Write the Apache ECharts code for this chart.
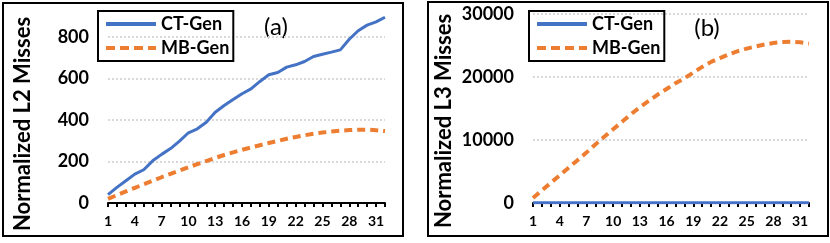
<!DOCTYPE html>
<html>
<head>
<meta charset="utf-8">
<script src="https://cdn.jsdelivr.net/npm/echarts@6/dist/echarts.min.js"></script>
<style>
html,body{margin:0;padding:0;background:#fff;}
#c{width:830px;height:243px;}
</style>
</head>
<body>
<div id="c"></div>
<script>
const categories = ['1','2','3','4','5','6','7','8','9','10','11','12','13','14','15','16','17','18','19','20','21','22','23','24','25','26','27','28','29','30','31','32'];
const seriesNames = ['CT-Gen', 'MB-Gen'];
const l2CT = [40,75,107,139,160,203,234,262,298,338,357,389,437,469,498,526,549,585,617,628,654,665,681,705,716,726,737,788,829,856,872,894];
const l2MB = [20,38,56,73,90,107,124,140,156,172,187,202,217,231,244,256,267,278,289,299,309,318,326,333,339,344,348,351,353,353,350,346];
const l3CT = [30,32,34,35,36,37,38,39,40,41,42,42,43,44,45,45,46,47,47,48,48,49,49,50,50,51,51,52,52,53,53,54];
const l3MB = [800,2000,3200,4400,5600,6800,8000,9300,10500,11700,12900,14100,15200,16200,17200,18100,19000,19800,20700,21600,22400,23000,23600,24100,24500,24850,25150,25400,25550,25600,25500,25300];
const yTitles = ['Normalized L2 Misses', 'Normalized L3 Misses'];
const panelTags = ['(a)', '(b)'];

const FONT = 'Lato';
const BLUE = '#4472C4', ORANGE = '#ED7D31';
const SOLID_ICON = 'path://M0,0h50v4h-50z';
const DASH_ICON = 'path://M0,0h9v4h-9z M14,0h9v4h-9z M28,0h9v4h-9z M42,0h8v4h-8z';

function xAxis(gi) {
  return {
    type: 'category', gridIndex: gi, data: categories, boundaryGap: false,
    axisLine: {lineStyle: {color: '#000', width: 2}},
    axisTick: {show: true, interval: 0, length: 4, lineStyle: {color: '#000', width: 2}},
    axisLabel: {interval: 2, margin: 11, fontFamily: FONT, fontWeight: 'bold', fontSize: 14, color: '#000'},
    splitLine: {show: false}
  };
}
function yAxis(gi, max, interval) {
  return {
    type: 'value', gridIndex: gi, min: 0, max: max, interval: interval,
    axisLine: {show: false}, axisTick: {show: false},
    axisLabel: {margin: 19, fontFamily: FONT, fontWeight: 'bold', fontSize: 18, color: '#000',
      showMaxLabel: max % interval === 0, formatter: v => String(v)},
    splitLine: {show: true, showMaxLine: max % interval === 0, lineStyle: {color: '#d9d9d9', width: 2, type: [2, 2]}}
  };
}
function legend(left) {
  return {
    show: true, left: left, top: 11, orient: 'vertical',
    data: [{name: seriesNames[0], icon: SOLID_ICON}, {name: seriesNames[1], icon: DASH_ICON}],
    itemWidth: 50, itemHeight: 14, itemGap: 6, symbolKeepAspect: true,
    borderColor: '#000', borderWidth: 2, padding: [4, 4, 4, 8],
    textStyle: {fontFamily: FONT, fontWeight: 'bold', fontSize: 18, color: '#000'},
    selectedMode: false
  };
}
const blueStyle = {color: BLUE, width: 3, type: 'solid'};
const orangeStyle = {color: ORANGE, width: 4, type: [8, 5]};

const chart = echarts.init(document.getElementById('c'), null, {renderer: 'canvas'});
chart.setOption({
  animation: false,
  backgroundColor: '#fff',
  grid: [
    {left: 108, top: 16, width: 277, height: 187},
    {left: 533, top: 14, width: 276, height: 189}
  ],
  xAxis: [xAxis(0), xAxis(1)],
  yAxis: [yAxis(0, 900, 200), yAxis(1, 30000, 10000)],
  legend: [legend(98), legend(529)],
  series: [
    {name: seriesNames[0], type: 'line', xAxisIndex: 0, yAxisIndex: 0, data: l2CT, symbol: 'none', lineStyle: blueStyle, itemStyle: {color: BLUE}, z: 3},
    {name: seriesNames[1], type: 'line', xAxisIndex: 0, yAxisIndex: 0, data: l2MB, symbol: 'none', lineStyle: orangeStyle, itemStyle: {color: ORANGE}, z: 2},
    {name: seriesNames[0], type: 'line', xAxisIndex: 1, yAxisIndex: 1, data: l3CT, symbol: 'none', lineStyle: blueStyle, itemStyle: {color: BLUE}, z: 3},
    {name: seriesNames[1], type: 'line', xAxisIndex: 1, yAxisIndex: 1, data: l3MB, symbol: 'none', lineStyle: orangeStyle, itemStyle: {color: ORANGE}, z: 2}
  ],
  graphic: [
    {type: 'rect', shape: {x: 3, y: 3, width: 400, height: 233}, style: {fill: 'none', stroke: '#000', lineWidth: 2}, z: 10},
    {type: 'rect', shape: {x: 428, y: 2, width: 400, height: 234}, style: {fill: 'none', stroke: '#000', lineWidth: 2}, z: 10},
    {type: 'text', x: 23, y: 124, rotation: Math.PI / 2, style: {text: yTitles[0], fontFamily: FONT, fontWeight: 'bold', fontSize: 22, fill: '#000', align: 'center', verticalAlign: 'middle'}},
    {type: 'text', x: 444, y: 121, rotation: Math.PI / 2, style: {text: yTitles[1], fontFamily: FONT, fontWeight: 'bold', fontSize: 22, fill: '#000', align: 'center', verticalAlign: 'middle'}},
    {type: 'text', x: 276, y: 27, style: {text: panelTags[0], fontFamily: FONT, fontSize: 24, fill: '#000', align: 'center', verticalAlign: 'middle'}},
    {type: 'text', x: 707, y: 28, style: {text: panelTags[1], fontFamily: FONT, fontSize: 24, fill: '#000', align: 'center', verticalAlign: 'middle'}}
  ]
});
</script>
</body>
</html>
